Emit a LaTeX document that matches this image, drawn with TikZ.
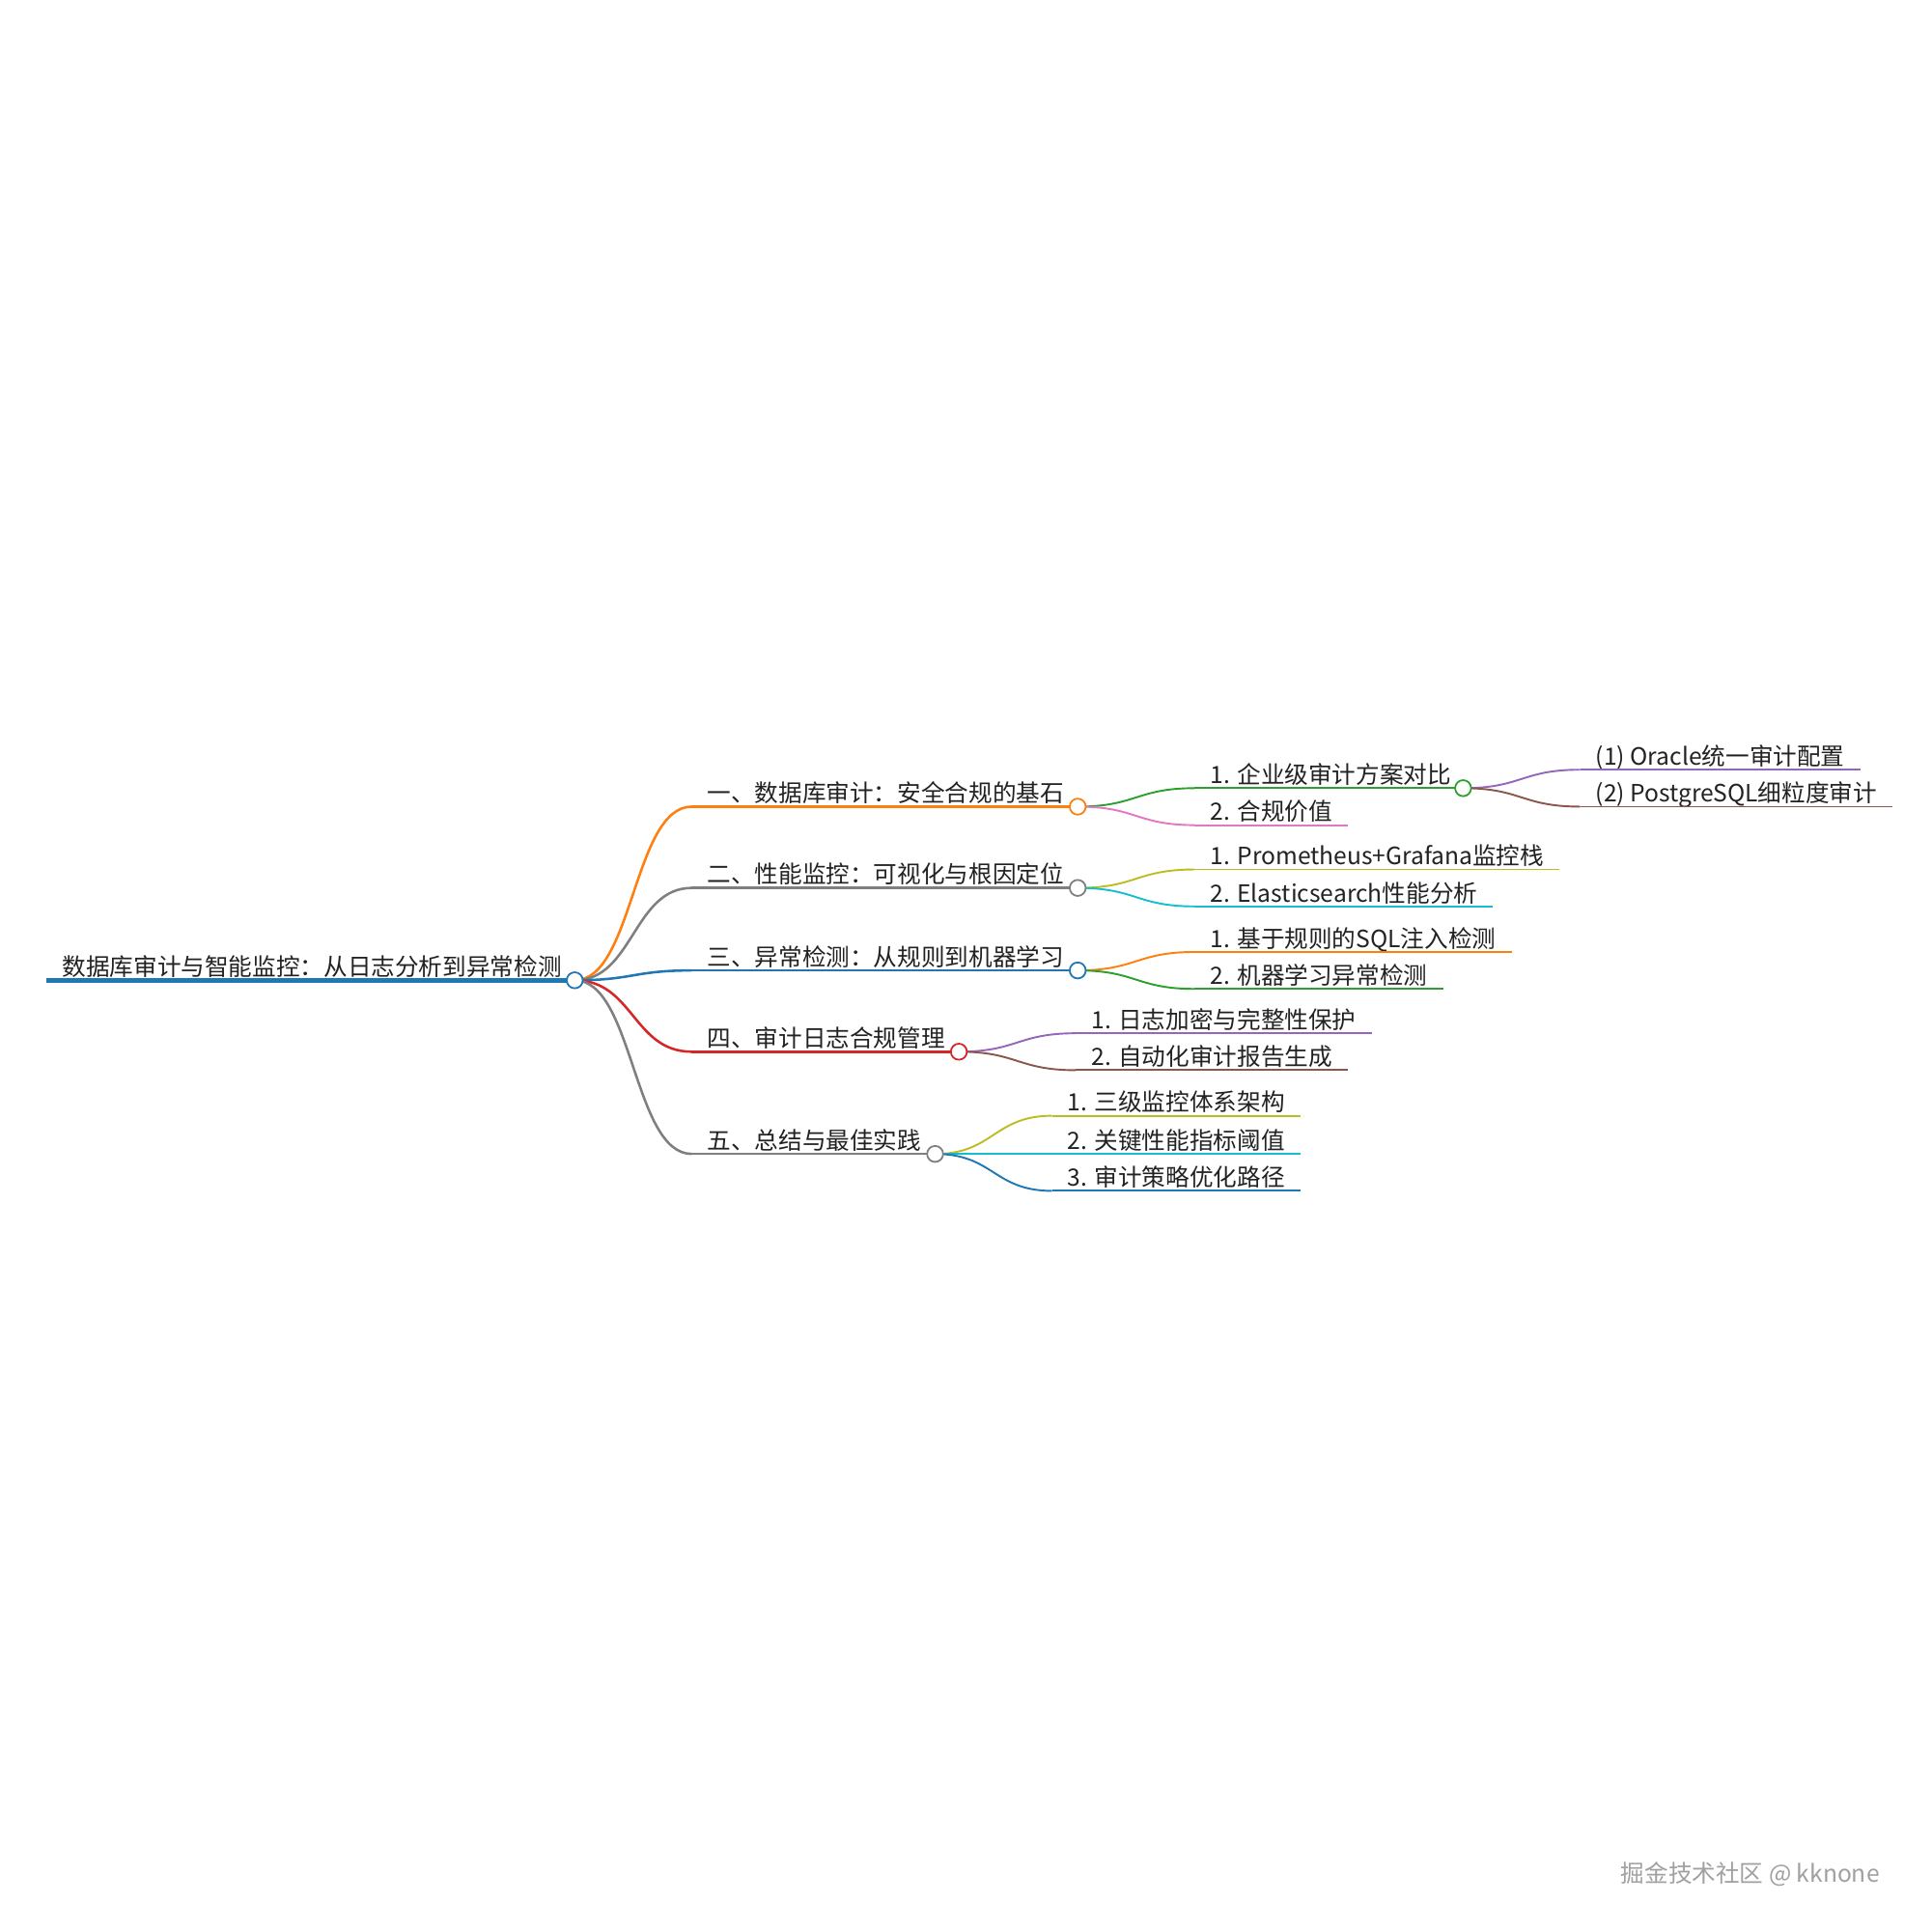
\documentclass[tikz,border=0pt]{standalone}
\usepackage{fontspec}
\setmainfont{Noto Sans CJK SC}
\usetikzlibrary{calc}
\definecolor{cblue}{HTML}{1F77B4}
\definecolor{corange}{HTML}{FF7F0E}
\definecolor{cgray}{HTML}{7F7F7F}
\definecolor{cred}{HTML}{D62728}
\definecolor{cgreen}{HTML}{2CA02C}
\definecolor{cpink}{HTML}{E377C2}
\definecolor{colive}{HTML}{BCBD22}
\definecolor{ccyan}{HTML}{17BECF}
\definecolor{cpurple}{HTML}{9467BD}
\definecolor{cbrown}{HTML}{8C564B}
\definecolor{txt}{HTML}{222222}
\definecolor{wm}{HTML}{A0A0A0}
\newcommand{\fsz}{\fontsize{19.3}{23}\selectfont}
\begin{document}
\begin{tikzpicture}[x=1pt,y=-1pt,
  lbl/.style={anchor=south west, inner xsep=12.5pt, inner ysep=3.5pt, text depth=0pt, font=\fsz, text=txt},
  dot/.style={circle, draw=#1, fill=white, line width=1.4pt, minimum size=13pt, inner sep=0pt},
  w0/.style={line width=3.8pt},
  w1/.style={line width=2pt},
  w2/.style={line width=1.5pt}]
\useasboundingbox (0,0) rectangle (1568,1568);
\fill[white] (0,0) rectangle (1568,1568);

% root
\node[lbl] (r) at (38,796) {数据库审计与智能监控：从日志分析到异常检测};
\coordinate (rc) at ($(r.south east)+(-2,0)$);

% level 1
\node[lbl] (n1) at ($(rc)+(95,-141)$) {一、数据库审计：安全合规的基石};
\node[lbl] (n2) at ($(rc)+(95,-75)$) {二、性能监控：可视化与根因定位};
\node[lbl] (n3) at ($(rc)+(95,-8)$) {三、异常检测：从规则到机器学习};
\node[lbl] (n4) at ($(rc)+(95,58)$) {四、审计日志合规管理};
\node[lbl] (n5) at ($(rc)+(95,141)$) {五、总结与最佳实践};
\foreach \i in {1,...,5}{\coordinate (n\i c) at ($(n\i.south east)+(-1.5,0)$);}

% level 2
\node[lbl] (a1) at ($(n1c)+(95,-15)$) {1. 企业级审计方案对比};
\node[lbl] (a2) at ($(n1c)+(95,15)$) {2. 合规价值};
\node[lbl] (b1) at ($(n2c)+(95,-15)$) {1. Prometheus+Grafana监控栈};
\node[lbl] (b2) at ($(n2c)+(95,15)$) {2. Elasticsearch性能分析};
\node[lbl] (d1) at ($(n3c)+(95,-15)$) {1. 基于规则的SQL注入检测};
\node[lbl] (d2) at ($(n3c)+(95,15)$) {2. 机器学习异常检测};
\node[lbl] (e1) at ($(n4c)+(95,-15)$) {1. 日志加密与完整性保护};
\node[lbl] (e2) at ($(n4c)+(95,15)$) {2. 自动化审计报告生成};
\node[lbl] (f1) at ($(n5c)+(95,-31)$) {1. 三级监控体系架构};
\node[lbl] (f2) at ($(n5c)+(95,0)$) {2. 关键性能指标阈值};
\node[lbl] (f3) at ($(n5c)+(95,30)$) {3. 审计策略优化路径};
\coordinate (a1c) at ($(a1.south east)+(-3,0)$);

% level 3
\node[lbl] (g1) at ($(a1c)+(95,-15)$) {(1) Oracle统一审计配置};
\node[lbl] (g2) at ($(a1c)+(95,15)$) {(2) PostgreSQL细粒度审计};

% links
\newcommand{\lnk}[4]{\draw[#1,#2] (#3) .. controls +(47.5,0) and +(-47.5,0) .. (#4.south west);}
\lnk{w1}{corange}{rc}{n1}
\lnk{w1}{cgray}{rc}{n2}
\lnk{w1}{cblue}{rc}{n3}
\lnk{w1}{cred}{rc}{n4}
\lnk{w1}{cgray}{rc}{n5}
\lnk{w2}{cgreen}{n1c}{a1}
\lnk{w2}{cpink}{n1c}{a2}
\lnk{w2}{colive}{n2c}{b1}
\lnk{w2}{ccyan}{n2c}{b2}
\lnk{w2}{corange}{n3c}{d1}
\lnk{w2}{cgreen}{n3c}{d2}
\lnk{w2}{cpurple}{n4c}{e1}
\lnk{w2}{cbrown}{n4c}{e2}
\lnk{w2}{colive}{n5c}{f1}
\lnk{w2}{ccyan}{n5c}{f2}
\lnk{w2}{cblue}{n5c}{f3}
\lnk{w2}{cpurple}{a1c}{g1}
\lnk{w2}{cbrown}{a1c}{g2}

% underlines
\draw[w0,cblue] (r.south west) -- (rc);
\draw[w1,corange] (n1.south west) -- (n1c);
\draw[w1,cgray] (n2.south west) -- (n2c);
\draw[w1,cblue] (n3.south west) -- (n3c);
\draw[w1,cred] (n4.south west) -- (n4c);
\draw[w1,cgray] (n5.south west) -- (n5c);
\draw[w2,cgreen] (a1.south west) -- (a1c);
\draw[w2,cpink] (a2.south west) -- (a2.south east);
\draw[w2,colive] (b1.south west) -- (b1.south east);
\draw[w2,ccyan] (b2.south west) -- (b2.south east);
\draw[w2,corange] (d1.south west) -- (d1.south east);
\draw[w2,cgreen] (d2.south west) -- (d2.south east);
\draw[w2,cpurple] (e1.south west) -- (e1.south east);
\draw[w2,cbrown] (e2.south west) -- (e2.south east);
\draw[w2,colive] (f1.south west) -- (f1.south east);
\draw[w2,ccyan] (f2.south west) -- (f2.south east);
\draw[w2,cblue] (f3.south west) -- (f3.south east);
\draw[w2,cpurple] (g1.south west) -- (g1.south east);
\draw[w2,cbrown] (g2.south west) -- (g2.south east);

% circles
\node[dot=cblue] (rdot) at (rc) {};
\node[dot=corange] (d1dot) at (n1c) {};
\node[dot=cgray] (d2dot) at (n2c) {};
\node[dot=cblue] (d3dot) at (n3c) {};
\node[dot=cred] (d4dot) at (n4c) {};
\node[dot=cgray] (d5dot) at (n5c) {};
\node[dot=cgreen] (a1dot) at (a1c) {};

% watermark
\node[anchor=base west, inner sep=0pt, font=\fsz, text=wm] (wmk) at (1316,1528) {掘金技术社区 @ kknone};
\end{tikzpicture}
\end{document}
